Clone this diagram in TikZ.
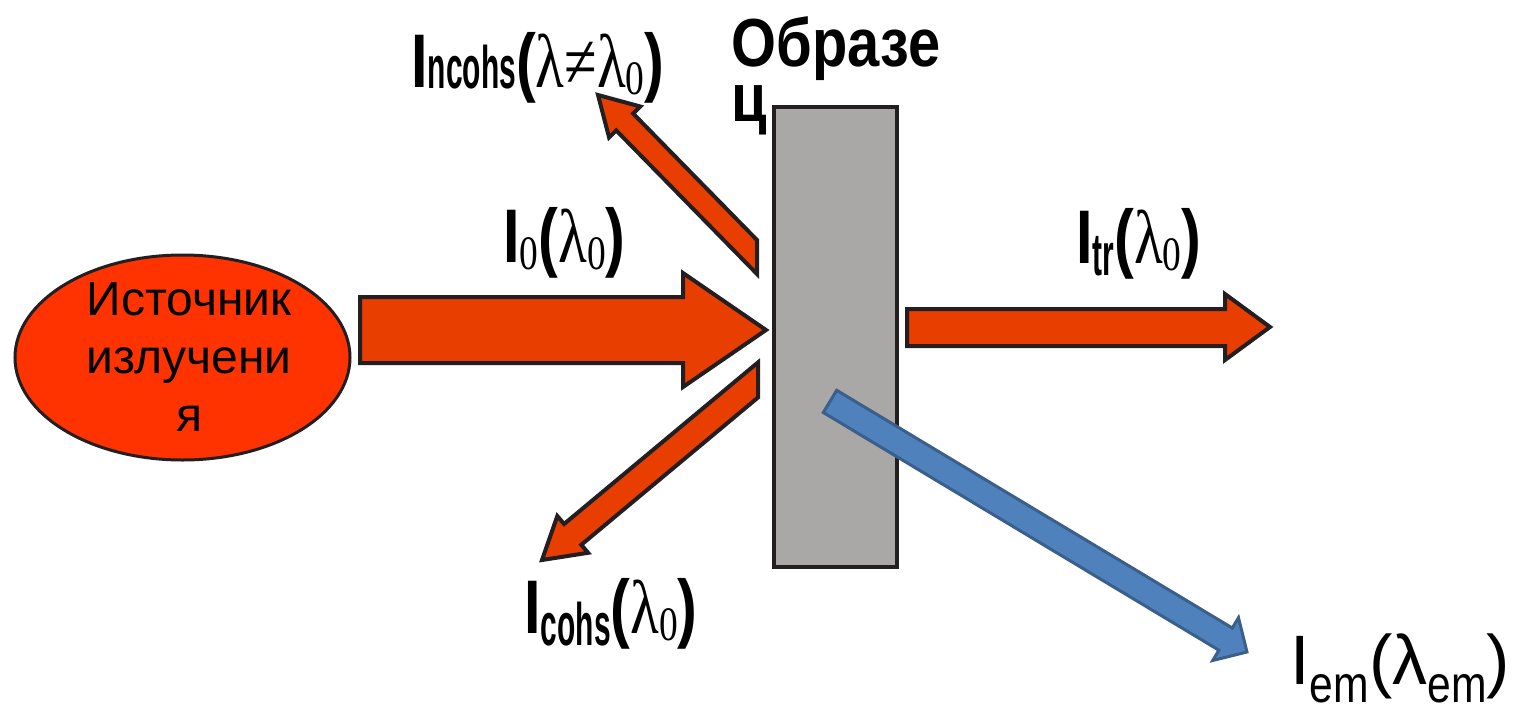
\documentclass[tikz,border=0pt]{standalone}
\usepackage{fontspec}
\usepackage{graphicx}
\setmainfont{Liberation Sans}
\newfontfamily\serfont{Liberation Serif}
\usetikzlibrary{shapes.geometric}

\definecolor{beamfill}{HTML}{E83F00}
\definecolor{srcfill}{HTML}{FF3300}
\definecolor{edgeblk}{HTML}{231F20}
\definecolor{samplefill}{HTML}{A9A8A6}
\definecolor{emfill}{HTML}{4F81BD}
\definecolor{emedge}{HTML}{3A5F8B}

% pieces of the beam labels
\newcommand{\bigI}{\textbf{I}}
\newcommand{\ssub}[2][6pt]{\raisebox{-#1}{\scalebox{0.64}[1]{\fontsize{30}{30}\selectfont\bfseries #2}}}
\newcommand{\zsub}{\raisebox{-3.5pt}{\fontsize{24}{24}\selectfont\serfont 0}}
\newcommand{\ser}[1]{{\serfont #1}}
\newcommand{\beamlabel}[1]{\scalebox{0.78}[1]{#1}}
\newcommand{\esub}[1]{\raisebox{-9pt}{\scalebox{0.82}[1]{\fontsize{26}{26}\selectfont #1}}}

\tikzset{
  beam/.style={fill=beamfill, draw=edgeblk, line width=2pt},
  embeam/.style={fill=emfill, draw=emedge, line width=1.5pt},
  source/.style={ellipse, draw=edgeblk, fill=srcfill, line width=1.5pt,
    minimum width=167.5pt, minimum height=102.5pt, inner sep=0pt},
  srctext/.style={align=center, inner sep=0pt,
    font=\fontsize{24}{29}\selectfont},
  sample/.style={rectangle, draw=edgeblk, fill=samplefill, line width=2pt,
    minimum width=61.5pt, minimum height=230pt, inner sep=0pt},
  samplelbl/.style={inner sep=0pt, anchor=base west,
    font=\fontsize{34}{34}\selectfont\bfseries},
  lbl/.style={inner sep=0pt, anchor=base west, font=\fontsize{38}{38}\selectfont},
  emlbl/.style={inner sep=0pt, anchor=base west, font=\fontsize{35}{35}\selectfont},
}

\begin{document}
\begin{tikzpicture}[x=0.5pt,y=-0.5pt]
  \useasboundingbox (0,0) rectangle (1517,713);

  % source and sample
  \node[source] (src) at (182.5,357.5) {};
  \node[srctext] (srctxt) at (189,357) {Источник\\излучени\\я};
  \node[sample] (smp) at (835.5,337) {};
  \node[samplelbl] (smplbl) at (731,66) {\scalebox{0.85}[1]{Образе}};
  \node[samplelbl] (smplblc) at (731,121) {\scalebox{0.85}[1]{ц}};

  % incoming and transmitted beams
  \draw[beam] (360,297) -- (683,297) -- (683,273) -- (766,330)
    -- (683,387) -- (683,363) -- (360,363) -- cycle;
  \draw[beam] (907,309) -- (1225,309) -- (1225,294) -- (1270,327)
    -- (1225,360) -- (1225,346) -- (907,346) -- cycle;

  % scattered beams
  \draw[beam] (757,240) -- (633.2,113.6) -- (640.3,106.5) -- (598,95)
    -- (609.1,137.5) -- (616.2,130.4) -- (757,274) -- cycle;
  \draw[beam] (758,362.4) -- (564.1,524.0) -- (557.3,516.0) -- (542,560)
    -- (588.1,552.8) -- (581.3,544.8) -- (758,397.5) -- cycle;

  % emitted beam
  \draw[embeam] (836.7,390.3) -- (1232.3,628.0) -- (1238.5,617.7) -- (1247,652)
    -- (1212.7,660.5) -- (1218.9,650.2) -- (823.3,412.5) -- cycle;

  % labels
  \node[lbl] (lncohs) at (411,87)
    {\beamlabel{\bigI\ssub[0.5pt]{ncohs}\textbf{(}\ser{λ≠λ}\zsub\textbf{)}}};
  \node[lbl] (lzero) at (503,262)
    {\beamlabel{\bigI\zsub\textbf{(}\ser{λ}\zsub\textbf{)}}};
  \node[lbl] (ltr) at (1076,263)
    {\beamlabel{\bigI\ssub{tr}\textbf{(}\ser{λ}\zsub\textbf{)}}};
  \node[lbl] (lcohs) at (524,633)
    {\beamlabel{\bigI\ssub{cohs}\textbf{(}\ser{λ}\zsub\textbf{)}}};
  \node[emlbl] (lem) at (1290,684) {I\esub{em}(λ\esub{em})};
\end{tikzpicture}
\end{document}
